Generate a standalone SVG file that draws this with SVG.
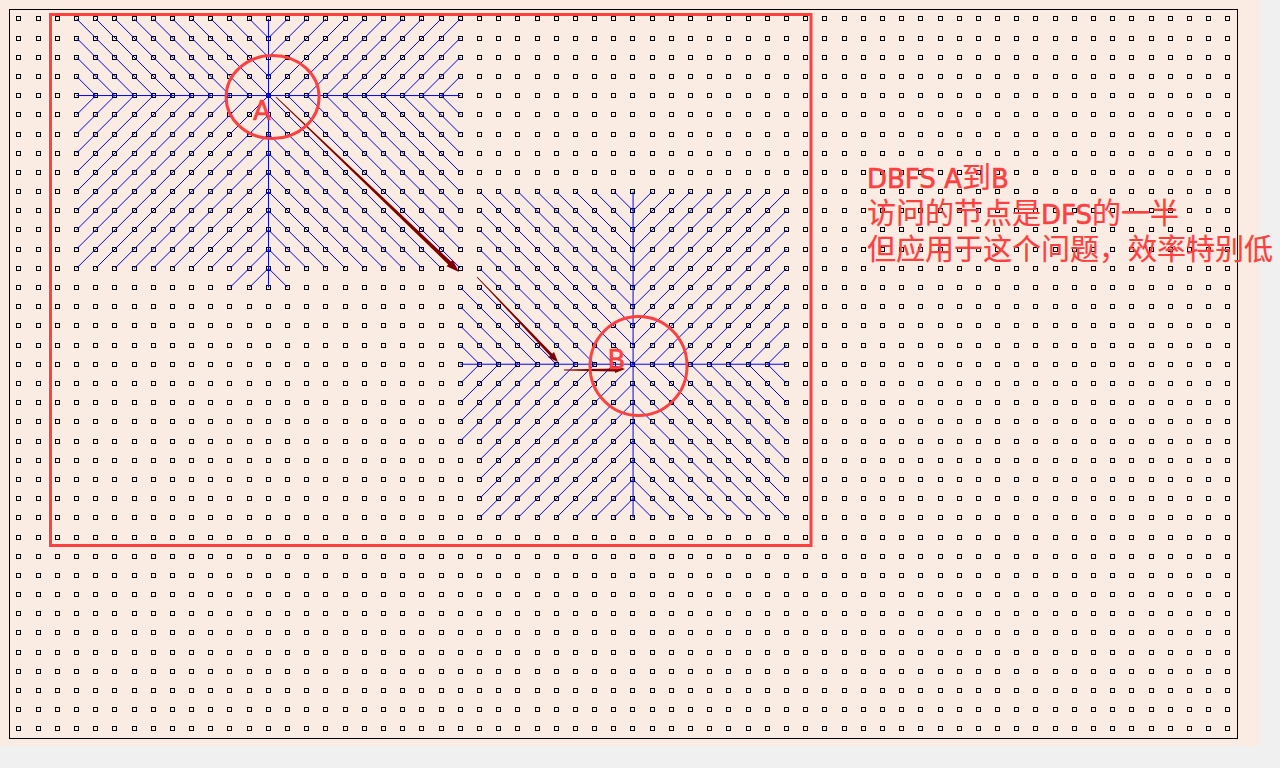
<svg xmlns="http://www.w3.org/2000/svg" width="1280" height="768" viewBox="0 0 1280 768">
<style>
.lines{fill:none;stroke:#0000ff;stroke-width:1}
.lines path{vector-effect:non-scaling-stroke}
.ring{fill:none;stroke:#ff4040;stroke-width:3}
.arrow{fill:#800000;stroke:none}
.dotrow{fill:none;stroke:#000;stroke-width:1;shape-rendering:crispEdges}
.lbl{font-family:"DejaVu Sans","Noto Sans CJK SC",sans-serif;font-size:26px;fill:#ff4040;stroke:#ff4040;stroke-width:0.6}
.c{font-size:29px;stroke-width:0.2}
</style>
<defs>
<path id="row" class="dotrow" d="M16.5 .5h4v4h-4zM36.5 .5h4v4h-4zM55.5 .5h4v4h-4zM74.5 .5h4v4h-4zM93.5 .5h4v4h-4zM112.5 .5h4v4h-4zM132.5 .5h4v4h-4zM151.5 .5h4v4h-4zM170.5 .5h4v4h-4zM189.5 .5h4v4h-4zM208.5 .5h4v4h-4zM227.5 .5h4v4h-4zM247.5 .5h4v4h-4zM266.5 .5h4v4h-4zM285.5 .5h4v4h-4zM304.5 .5h4v4h-4zM323.5 .5h4v4h-4zM343.5 .5h4v4h-4zM362.5 .5h4v4h-4zM381.5 .5h4v4h-4zM400.5 .5h4v4h-4zM419.5 .5h4v4h-4zM439.5 .5h4v4h-4zM458.5 .5h4v4h-4zM477.5 .5h4v4h-4zM496.5 .5h4v4h-4zM515.5 .5h4v4h-4zM535.5 .5h4v4h-4zM554.5 .5h4v4h-4zM573.5 .5h4v4h-4zM592.5 .5h4v4h-4zM611.5 .5h4v4h-4zM630.5 .5h4v4h-4zM650.5 .5h4v4h-4zM669.5 .5h4v4h-4zM688.5 .5h4v4h-4zM707.5 .5h4v4h-4zM726.5 .5h4v4h-4zM746.5 .5h4v4h-4zM765.5 .5h4v4h-4zM784.5 .5h4v4h-4zM803.5 .5h4v4h-4zM822.5 .5h4v4h-4zM842.5 .5h4v4h-4zM861.5 .5h4v4h-4zM880.5 .5h4v4h-4zM899.5 .5h4v4h-4zM918.5 .5h4v4h-4zM938.5 .5h4v4h-4zM957.5 .5h4v4h-4zM976.5 .5h4v4h-4zM995.5 .5h4v4h-4zM1014.5 .5h4v4h-4zM1033.5 .5h4v4h-4zM1053.5 .5h4v4h-4zM1072.5 .5h4v4h-4zM1091.5 .5h4v4h-4zM1110.5 .5h4v4h-4zM1129.5 .5h4v4h-4zM1149.5 .5h4v4h-4zM1168.5 .5h4v4h-4zM1187.5 .5h4v4h-4zM1206.5 .5h4v4h-4zM1225.5 .5h4v4h-4z"/>
</defs>
<rect x="0" y="0" width="1280" height="768" fill="#f0f0f0"/>
<rect x="0" y="0" width="1260" height="746" fill="#faece2"/>
<rect x="9.5" y="9.5" width="1228" height="729" fill="none" stroke="#000" stroke-width="1"/>
<g id="grid">
<use href="#row" y="16"/><use href="#row" y="36"/><use href="#row" y="55"/><use href="#row" y="74"/><use href="#row" y="93"/><use href="#row" y="112"/><use href="#row" y="132"/><use href="#row" y="151"/><use href="#row" y="170"/><use href="#row" y="189"/><use href="#row" y="208"/><use href="#row" y="227"/><use href="#row" y="247"/><use href="#row" y="266"/><use href="#row" y="285"/><use href="#row" y="304"/><use href="#row" y="323"/><use href="#row" y="343"/><use href="#row" y="362"/><use href="#row" y="381"/><use href="#row" y="400"/><use href="#row" y="419"/><use href="#row" y="439"/><use href="#row" y="458"/><use href="#row" y="477"/><use href="#row" y="496"/><use href="#row" y="515"/><use href="#row" y="535"/><use href="#row" y="554"/><use href="#row" y="573"/><use href="#row" y="592"/><use href="#row" y="611"/><use href="#row" y="630"/><use href="#row" y="650"/><use href="#row" y="669"/><use href="#row" y="688"/><use href="#row" y="707"/><use href="#row" y="726"/>
</g>
<rect id="region" x="50.5" y="14.5" width="760.5" height="531" fill="none" stroke="#ff4040" stroke-width="3"/>
<g id="connectors" class="lines" transform="translate(19 18.8) scale(19.19)">
<path id="searchA" d="M3 4H23M13 0V14
M3 0L7 4M4 0L8 4M5 0L9 4M6 0L10 4M7 0L11 4M8 0L12 4M9 0L13 4M10 0L13 3M11 0L13 2M12 0L13 1M3 1L6 4M3 2L5 4M3 3L4 4
M14 0L13 1M15 0L13 2M16 0L13 3M17 0L13 4M18 0L14 4M19 0L15 4M20 0L16 4M21 0L17 4M22 0L18 4M23 0L19 4M23 1L20 4M23 2L21 4M23 3L22 4
M3 5L4 4M3 6L5 4M3 7L6 4M3 8L7 4M3 9L8 4M3 10L9 4M3 11L10 4M3 12L11 4M3 13L12 4M4 13L13 4M5 13L13 5M6 13L13 6M7 13L13 7M8 13L13 8M9 13L13 9M10 13L13 10M11 13L13 11M11 14L13 12M12 14L13 13
M23 5L22 4M23 6L21 4M23 7L20 4M23 8L19 4M23 9L18 4M23 10L17 4M23 11L16 4M23 12L15 4M23 13L14 4M22 13L13 4M21 13L13 5M20 13L13 6M19 13L13 7M18 13L13 8M17 13L13 9M16 13L13 10M15 13L13 11M14 13L13 12M14 14L13 13"/>
<path id="searchB" d="M23 18H40M32 9V26
M24 9L32 17M25 9L32 16M26 9L32 15M27 9L32 14M28 9L32 13M29 9L32 12M30 9L32 11M31 9L32 10M24 10L32 18M24 11L31 18M24 12L30 18M24 13L29 18M24 14L28 18M23 14L27 18M23 15L26 18M23 16L25 18M23 17L24 18
M33 9L32 10M34 9L32 11M35 9L32 12M36 9L32 13M37 9L32 14M38 9L32 15M39 9L32 16M40 9L32 17M40 10L32 18M40 11L33 18M40 12L34 18M40 13L35 18M40 14L36 18M40 15L37 18M40 16L38 18M40 17L39 18
M23 19L24 18M23 20L25 18M23 21L26 18M23 22L27 18M24 22L28 18M24 23L29 18M24 24L30 18M24 25L31 18M24 26L32 18M25 26L32 19M26 26L32 20M27 26L32 21M28 26L32 22M29 26L32 23M30 26L32 24M31 26L32 25
M40 26L32 18M33 26L32 25M34 26L32 24M35 26L32 23M36 26L32 22M37 26L32 21M38 26L32 20M39 26L32 19M40 19L39 18M40 20L38 18M40 21L37 18M40 22L36 18M40 23L35 18M40 24L34 18M40 25L33 18"/>
</g>
<g id="arrows">
<polygon class="arrow" points="275.65,97.36 448.2,264.4 446.5,266.3 459,272 452.7,259.7 451,261.6 276.35,96.64"/>
<polygon class="arrow" points="476.7,277.3 550,355.8 548.2,357.6 558,362 554,352 552.2,353.8 477.3,276.7"/>
<polygon class="arrow" points="564,369.6 615,368.4 615,365.5 625,369 615,373 615,371.4 564,370.4"/>
</g>
<g id="nodeA">
<ellipse class="ring" cx="272.6" cy="97" rx="46.5" ry="41.5"/>
<text class="lbl" x="253" y="119.5">A</text>
</g>
<g id="nodeB">
<ellipse class="ring" cx="638.5" cy="366" rx="48.5" ry="49.5"/>
<text class="lbl" x="607.5" y="368.5">B</text>
</g>
<g id="note">
<text class="lbl" x="867" y="188.3">DBFS A<tspan class="c">到</tspan>B</text>
<text class="lbl" x="867" y="224"><tspan class="c">访问的节点是</tspan>DFS<tspan class="c">的一半</tspan></text>
<text class="lbl" x="867" y="260"><tspan class="c">但应用于这个问题，效率特别低</tspan></text>
</g>
</svg>
